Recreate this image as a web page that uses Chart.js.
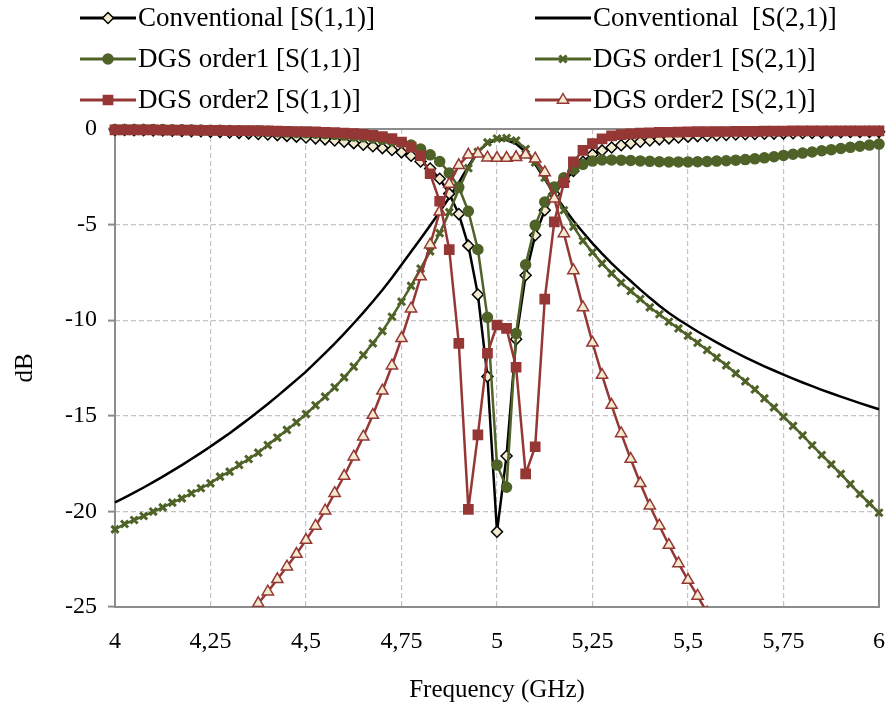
<!DOCTYPE html>
<html>
<head>
<meta charset="utf-8">
<title>S-parameters</title>
<script src="https://cdn.jsdelivr.net/npm/chart.js@4.4.1/dist/chart.umd.min.js"></script>
<style>
  html, body { margin: 0; padding: 0; background: #fff; }
  #wrap { width: 887px; height: 712px; }
</style>
</head>
<body>
<div id="wrap"><canvas id="chart" width="887" height="712"></canvas></div>
<script>
// frequency points (GHz), 25 MHz steps
const freq = [4, 4.025, 4.05, 4.075, 4.1, 4.125, 4.15, 4.175, 4.2, 4.225, 4.25, 4.275, 4.3, 4.325, 4.35, 4.375, 4.4, 4.425, 4.45, 4.475,
  4.5, 4.525, 4.55, 4.575, 4.6, 4.625, 4.65, 4.675, 4.7, 4.725, 4.75, 4.775, 4.8, 4.825, 4.85, 4.875, 4.9, 4.925, 4.95, 4.975,
  5, 5.025, 5.05, 5.075, 5.1, 5.125, 5.15, 5.175, 5.2, 5.225, 5.25, 5.275, 5.3, 5.325, 5.35, 5.375, 5.4, 5.425, 5.45, 5.475,
  5.5, 5.525, 5.55, 5.575, 5.6, 5.625, 5.65, 5.675, 5.7, 5.725, 5.75, 5.775, 5.8, 5.825, 5.85, 5.875, 5.9, 5.925, 5.95, 5.975, 6];

const xTickLabels = ['4', '4,25', '4,5', '4,75', '5', '5,25', '5,5', '5,75', '6'];
const yTickLabels = ['-25', '-20', '-15', '-10', '-5', '0'];

const seriesNames = ['Conventional [S(1,1)]', 'Conventional  [S(2,1)]', 'DGS order1 [S(1,1)]',
  'DGS order1 [S(2,1)]', 'DGS order2 [S(1,1)]', 'DGS order2 [S(2,1)]'];

// dB values
const convS11 = [-0.05, -0.05, -0.06, -0.06, -0.07, -0.08, -0.09, -0.10, -0.11, -0.12, -0.14, -0.16, -0.18, -0.20, -0.23, -0.26, -0.29, -0.32, -0.36, -0.40,
  -0.44, -0.49, -0.54, -0.60, -0.67, -0.74, -0.82, -0.90, -1.00, -1.10, -1.22, -1.40, -1.70, -2.07, -2.60, -3.38, -4.45, -6.10, -8.66, -12.95,
  -21.06, -17.10, -11.00, -7.65, -5.56, -4.25, -3.40, -2.75, -2.20, -1.71, -1.33, -1.12, -0.97, -0.85, -0.75, -0.67, -0.60, -0.54, -0.49, -0.44,
  -0.40, -0.37, -0.35, -0.33, -0.31, -0.29, -0.27, -0.26, -0.25, -0.24, -0.23, -0.22, -0.21, -0.20, -0.19, -0.18, -0.17, -0.16, -0.16, -0.15, -0.15];

const convS21 = [-19.53, -19.28, -19.02, -18.75, -18.47, -18.18, -17.88, -17.58, -17.26, -16.94, -16.61, -16.26, -15.91, -15.54, -15.17, -14.78, -14.38, -13.97, -13.55, -13.12,
  -12.69, -12.21, -11.72, -11.22, -10.70, -10.16, -9.60, -9.02, -8.42, -7.78, -7.10, -6.42, -5.74, -5.05, -4.33, -3.58, -2.80, -1.95, -1.20, -0.75,
  -0.55, -0.58, -0.78, -1.20, -1.85, -2.62, -3.40, -4.12, -4.80, -5.40, -5.98, -6.52, -7.03, -7.50, -7.95, -8.40, -8.83, -9.24, -9.62, -9.96,
  -10.28, -10.59, -10.88, -11.16, -11.43, -11.69, -11.94, -12.18, -12.41, -12.63, -12.85, -13.06, -13.26, -13.45, -13.64, -13.82, -14.00, -14.17, -14.34, -14.50, -14.66];

const dgs1S11 = [-0.02, -0.02, -0.02, -0.03, -0.03, -0.03, -0.04, -0.04, -0.05, -0.05, -0.06, -0.07, -0.08, -0.09, -0.10, -0.11, -0.12, -0.14, -0.16, -0.18,
  -0.20, -0.22, -0.25, -0.28, -0.32, -0.36, -0.41, -0.47, -0.54, -0.62, -0.72, -0.84, -1.05, -1.35, -1.70, -2.30, -3.05, -4.30, -6.30, -9.85,
  -17.57, -18.74, -10.69, -7.10, -5.04, -3.82, -3.03, -2.55, -2.12, -1.85, -1.68, -1.62, -1.62, -1.63, -1.65, -1.67, -1.69, -1.71, -1.72, -1.72,
  -1.72, -1.71, -1.70, -1.68, -1.66, -1.63, -1.60, -1.56, -1.51, -1.45, -1.38, -1.32, -1.26, -1.20, -1.14, -1.08, -1.02, -0.96, -0.90, -0.84, -0.79];

const dgs1S21 = [-20.94, -20.66, -20.45, -20.24, -20.01, -19.79, -19.54, -19.32, -19.05, -18.79, -18.53, -18.18, -17.92, -17.57, -17.26, -16.93, -16.53, -16.14, -15.74, -15.34,
  -14.91, -14.45, -14.00, -13.51, -12.99, -12.43, -11.82, -11.21, -10.57, -9.82, -9.03, -8.20, -7.30, -6.40, -5.45, -4.35, -3.15, -2.05, -1.20, -0.70,
  -0.50, -0.48, -0.60, -1.05, -1.75, -2.55, -3.40, -4.25, -5.11, -5.84, -6.45, -7.03, -7.55, -8.04, -8.47, -8.89, -9.33, -9.69, -10.08, -10.43,
  -10.81, -11.18, -11.56, -11.96, -12.36, -12.78, -13.20, -13.62, -14.09, -14.56, -15.05, -15.53, -16.02, -16.54, -17.05, -17.54, -18.04, -18.57, -19.09, -19.58, -20.07];

const dgs2S11 = [-0.05, -0.05, -0.05, -0.05, -0.05, -0.06, -0.06, -0.06, -0.06, -0.07, -0.07, -0.07, -0.08, -0.08, -0.09, -0.09, -0.10, -0.11, -0.12, -0.13,
  -0.14, -0.15, -0.17, -0.19, -0.21, -0.24, -0.28, -0.33, -0.40, -0.50, -0.68, -0.95, -1.40, -2.34, -3.78, -6.31, -11.21, -19.89, -16.00, -11.73,
  -10.25, -10.43, -12.46, -18.04, -16.62, -8.90, -4.86, -2.81, -1.72, -1.12, -0.76, -0.52, -0.36, -0.29, -0.25, -0.22, -0.20, -0.18, -0.17, -0.16,
  -0.15, -0.14, -0.14, -0.13, -0.13, -0.12, -0.12, -0.12, -0.11, -0.11, -0.11, -0.10, -0.10, -0.10, -0.10, -0.10, -0.10, -0.10, -0.10, -0.10, -0.10];

// below -25 dB the trace leaves the plot
const dgs2S21 = [null, null, null, null, null, null, null, null, null, null, null, null, null, null, -25.5, -24.81, -24.20, -23.55, -22.89, -22.23,
  -21.50, -20.76, -19.96, -19.05, -18.15, -17.14, -16.09, -14.96, -13.69, -12.38, -10.95, -9.40, -7.72, -6.05, -4.33, -2.88, -1.90, -1.35, -1.30, -1.50,
  -1.52, -1.52, -1.48, -1.35, -1.55, -2.27, -3.65, -5.46, -7.40, -9.33, -11.18, -12.87, -14.44, -15.92, -17.26, -18.53, -19.70, -20.75, -21.76, -22.72,
  -23.59, -24.42, -25.30, null, null, null, null, null, null, null, null, null, null, null, null, null, null, null, null, null, null];

const BLACK = '#000000';
const GREEN = '#4f6228';
const RED = '#953735';
const CREAM = '#f3ebcf';
const FONT = "'Liberation Serif', 'Times New Roman', serif";

function pts(values) {
  return freq.map((f, i) => ({ x: f, y: values[i] }));
}

function series(label, values, color, style) {
  return Object.assign({
    label: label,
    data: pts(values),
    borderColor: color,
    backgroundColor: color,
    borderWidth: 2.5,
    pointBorderColor: color,
    pointBackgroundColor: color,
    pointBorderWidth: 1.5,
    tension: 0,
    spanGaps: false,
    clip: { left: 8, top: 8, right: 8, bottom: 0 }
  }, style);
}

const datasets = [
  series(seriesNames[0], convS11, BLACK, { pointStyle: 'rectRot', pointRadius: 5.5, pointBackgroundColor: CREAM, order: 3 }),
  series(seriesNames[1], convS21, BLACK, { pointRadius: 0, order: 3 }),
  series(seriesNames[2], dgs1S11, GREEN, { pointStyle: 'circle', pointRadius: 5, order: 2 }),
  series(seriesNames[3], dgs1S21, GREEN, { pointStyle: 'crossRot', pointRadius: 5, pointBorderWidth: 3, order: 2 }),
  series(seriesNames[4], dgs2S11, RED, { pointStyle: 'rect', pointRadius: 6.5, order: 1 }),
  series(seriesNames[5], dgs2S21, RED, { pointStyle: 'triangle', pointRadius: 6.5, pointBackgroundColor: CREAM, order: 1 })
];

// plot frame, drawn under the traces
const framePlugin = {
  id: 'frame',
  beforeDatasetsDraw(chart) {
    const { ctx, chartArea: a } = chart;
    ctx.save();
    ctx.strokeStyle = '#8c8c8c';
    ctx.lineWidth = 2;
    ctx.strokeRect(a.left, a.top, a.right - a.left, a.bottom - a.top);
    ctx.restore();
  }
};

function marker(ctx, ds, x, y) {
  const r = ds.pointRadius;
  if (!r) return;
  ctx.save();
  ctx.fillStyle = ds.pointBackgroundColor;
  ctx.strokeStyle = ds.pointBorderColor;
  ctx.lineWidth = ds.pointBorderWidth;
  ctx.beginPath();
  if (ds.pointStyle === 'circle') {
    ctx.arc(x, y, r, 0, Math.PI * 2);
  } else if (ds.pointStyle === 'rect') {
    const s = r * Math.SQRT1_2;
    ctx.rect(x - s, y - s, 2 * s, 2 * s);
  } else if (ds.pointStyle === 'rectRot') {
    ctx.moveTo(x - r, y); ctx.lineTo(x, y - r); ctx.lineTo(x + r, y); ctx.lineTo(x, y + r); ctx.closePath();
  } else if (ds.pointStyle === 'triangle') {
    ctx.moveTo(x, y - r);
    ctx.lineTo(x + r * 0.866, y + r * 0.5);
    ctx.lineTo(x - r * 0.866, y + r * 0.5);
    ctx.closePath();
  } else if (ds.pointStyle === 'crossRot') {
    const s = r * Math.SQRT1_2;
    ctx.moveTo(x - s, y - s); ctx.lineTo(x + s, y + s);
    ctx.moveTo(x + s, y - s); ctx.lineTo(x - s, y + s);
    ctx.stroke();
    ctx.restore();
    return;
  }
  ctx.fill();
  ctx.stroke();
  ctx.restore();
}

// two-column legend above the plot
const legendPlugin = {
  id: 'twoColLegend',
  afterDraw(chart) {
    const ctx = chart.ctx;
    const cols = [80, 535];
    const rows = [18, 59, 100];
    chart.data.datasets.forEach((ds, i) => {
      const x0 = cols[i % 2];
      const y = rows[Math.floor(i / 2)];
      ctx.save();
      ctx.strokeStyle = ds.borderColor;
      ctx.lineWidth = 3;
      ctx.beginPath();
      ctx.moveTo(x0, y);
      ctx.lineTo(x0 + 56, y);
      ctx.stroke();
      ctx.restore();
      marker(ctx, ds, x0 + 28, y);
      ctx.save();
      ctx.fillStyle = '#000';
      ctx.font = '27px ' + FONT;
      ctx.textBaseline = 'middle';
      ctx.textAlign = 'left';
      ctx.fillText(ds.label, x0 + 58, y + 1);
      ctx.restore();
    });
  }
};

new Chart(document.getElementById('chart'), {
  type: 'line',
  data: { datasets: datasets },
  options: {
    responsive: false,
    animation: false,
    layout: { padding: { top: 129, right: 8, left: 0, bottom: 0 } },
    plugins: { legend: { display: false }, tooltip: { enabled: false } },
    scales: {
      x: {
        type: 'linear',
        min: 4,
        max: 6,
        afterFit: s => { s.height = 105; s.paddingLeft = 0; s.paddingRight = 0; },
        afterBuildTicks: s => { s.ticks = xTickLabels.map((_, i) => ({ value: 4 + i * 0.25 })); },
        ticks: {
          padding: 20,
          color: '#000',
          font: { family: FONT, size: 24 },
          maxRotation: 0,
          autoSkip: false,
          callback: (v, i) => xTickLabels[i]
        },
        grid: { color: '#c3c3c3', lineWidth: 1.2, drawTicks: false },
        border: { display: false, dash: [5, 3] },
        title: {
          display: true,
          text: 'Frequency (GHz)',
          color: '#000',
          font: { family: FONT, size: 25 },
          padding: { top: 0, bottom: 7 }
        }
      },
      y: {
        min: -25,
        max: 0,
        afterFit: s => { s.width = 115; },
        afterBuildTicks: s => { s.ticks = yTickLabels.map(t => ({ value: Number(t) })); },
        ticks: {
          padding: 11,
          color: '#000',
          font: { family: FONT, size: 24 },
          callback: v => yTickLabels.find(t => Number(t) === v)
        },
        grid: { color: '#c3c3c3', lineWidth: 1.2, tickLength: 7, tickColor: '#8c8c8c', tickWidth: 2 },
        border: { display: false, dash: [5, 3] },
        title: {
          display: true,
          text: 'dB',
          color: '#000',
          font: { family: FONT, size: 25 },
          padding: { top: 10, bottom: 0 }
        }
      }
    }
  },
  plugins: [framePlugin, legendPlugin]
});
</script>
</body>
</html>
